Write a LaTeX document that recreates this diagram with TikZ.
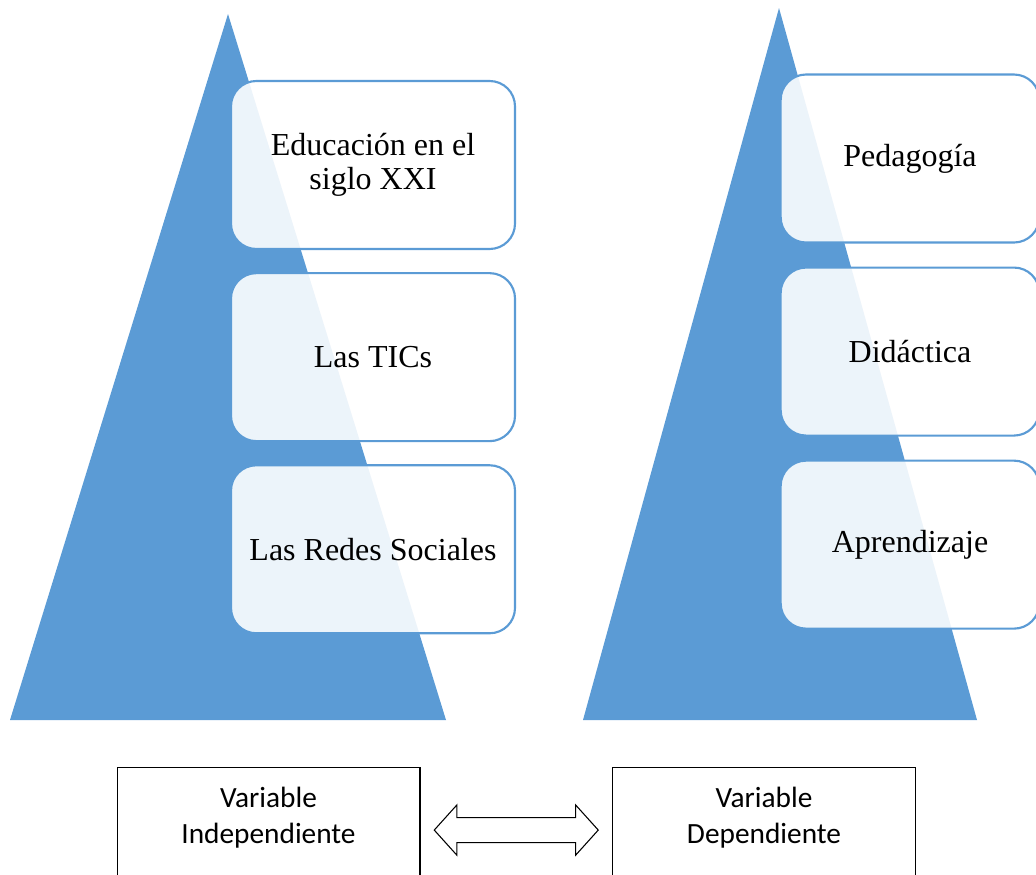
\documentclass[tikz,border=0pt]{standalone}
\usepackage{fontspec}
\setmainfont{Liberation Serif}
\newfontfamily\calibri{Carlito}
\usetikzlibrary{positioning,calc,shapes.arrows}

\definecolor{tribrue}{HTML}{5B9BD5}

\begin{document}
\begin{tikzpicture}[x=0.375pt, y=-0.375pt,
  itembox/.style={draw=tribrue, line width=0.8pt, fill=white, fill opacity=0.89,
    text opacity=1, rounded corners=9.5pt, minimum width=106.5pt,
    minimum height=63pt, align=center, font=\fontsize{12}{12.8}\selectfont},
  varbox/.style={draw=black, line width=0.4pt, minimum width=113.6pt,
    minimum height=42.4pt, anchor=north},
  vartext/.style={align=center, font=\calibri\fontsize{11}{13.5}\selectfont},
  dblarrow/.style={double arrow, draw=black, line width=0.4pt, fill=white,
    inner sep=0pt, text height=4.5pt, text depth=4.5pt,
    minimum height=61.5pt, double arrow head extend=4.7pt,
    double arrow tip angle=96}]
  \clip (0,0) rectangle (1036,875);

  % --- STEP 1: THE TWO TRIANGLES ---
  \coordinate (A1) at (228,14);
  \coordinate (B1) at (10,720);
  \coordinate (C1) at (446,720);
  \fill[tribrue] (A1) -- (B1) -- (C1) -- cycle;

  \coordinate (A2) at (779,8);
  \coordinate (B2) at (583,720);
  \coordinate (C2) at (977,720);
  \fill[tribrue] (A2) -- (B2) -- (C2) -- cycle;

  % --- STEP 2: BOXES OF THE INDEPENDENT VARIABLE ---
  \node[itembox] (edu) at (373,165) {Educación en el\\siglo XXI};
  \node[itembox, below=8.25pt of edu] (tics) {Las TICs};
  \node[itembox, below=8.25pt of tics] (redes) {Las Redes Sociales};

  % --- STEP 3: BOXES OF THE DEPENDENT VARIABLE ---
  \node[itembox, minimum width=97pt] (peda) at (910,158.5) {Pedagogía};
  \node[itembox, minimum width=97pt, below=8.6pt of peda] (dida) {Didáctica};
  \node[itembox, minimum width=97pt, below=8.6pt of dida] (apre) {Aprendizaje};

  % --- STEP 4: THE VARIABLES AND THEIR LINK ---
  \node[varbox] (vi) at (268.5,767) {};
  \node[varbox] (vd) at (764,767) {};
  \node[vartext] (vitext) at ($(vi.north)+(0,51)$) {Variable\\Independiente};
  \node[vartext] (vdtext) at ($(vd.north)+(0,51)$) {Variable\\Dependiente};
  \node[dblarrow] (link) at ($($(vi.east)!0.5!(vd.west)$ |- vitext)+(0,6)$) {};
\end{tikzpicture}
\end{document}
